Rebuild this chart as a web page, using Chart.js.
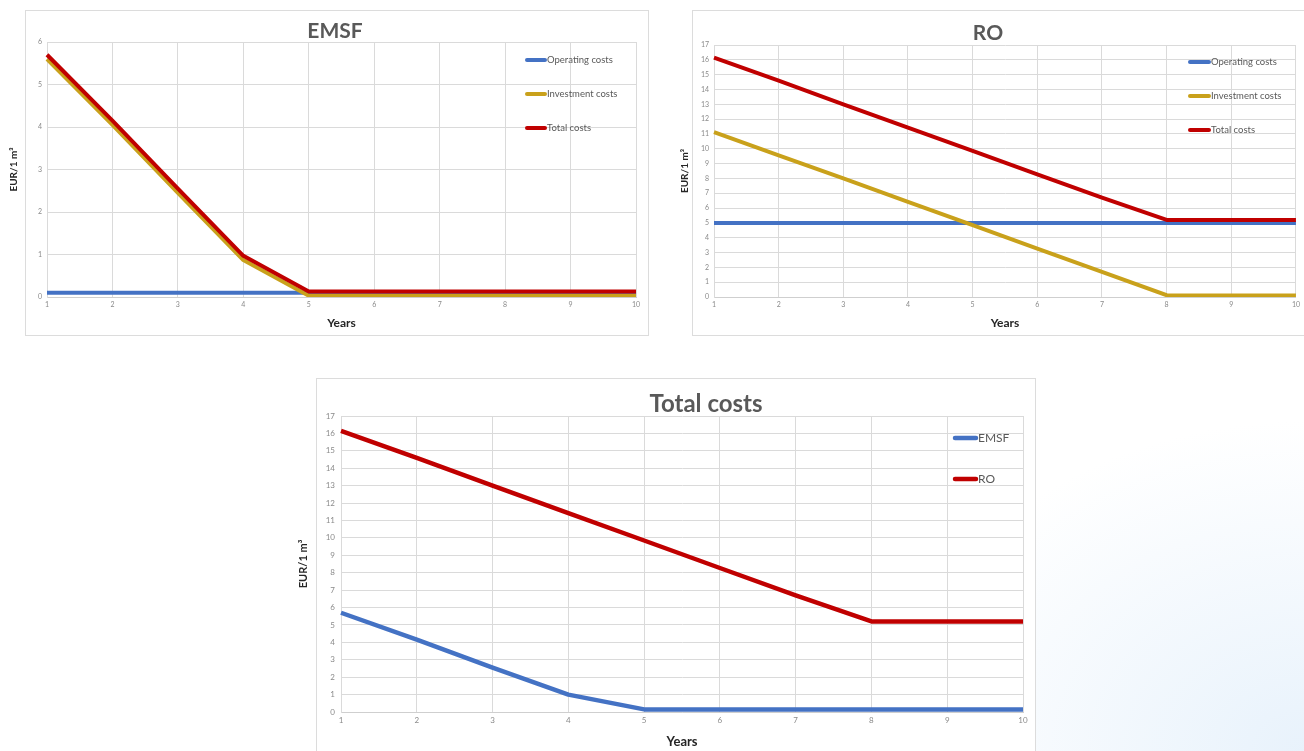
<!DOCTYPE html>
<html>
<head>
<meta charset="utf-8">
<script src="https://cdn.jsdelivr.net/npm/chart.js@4.4.0/dist/chart.umd.min.js"></script>
<style>
html,body{margin:0;padding:0;width:1304px;height:751px;overflow:hidden;}
body{background:radial-gradient(ellipse 420px 330px at 1304px 751px, rgba(228,240,251,0.85), rgba(255,255,255,0) 100%), #fff;position:relative;font-family:Lato, "Open Sans", sans-serif;}
.frame{position:absolute;border:1px solid #dcdcdc;background:#fff;}
.box{position:absolute;}
canvas{display:block;}
</style>
</head>
<body>
<div class="frame" style="left:25px;top:10px;width:622px;height:324px"></div>
<div class="frame" style="left:692px;top:10px;width:620px;height:324px"></div>
<div class="frame" style="left:316px;top:378px;width:718px;height:400px"></div>
<div class="box" style="left:0px;top:10px"><canvas id="c1" width="652" height="330"></canvas></div>
<div class="box" style="left:670px;top:10px"><canvas id="c2" width="634" height="330"></canvas></div>
<div class="box" style="left:290px;top:378px"><canvas id="c3" width="760" height="373"></canvas></div>
<script>
// ---- Data ----
const years = ['1','2','3','4','5','6','7','8','9','10'];

const emsfOperating  = [0.1, 0.1, 0.1, 0.1, 0.1, 0.1, 0.1, 0.1, 0.1, 0.1];
const emsfInvestment = [5.6, 4.05, 2.45, 0.87, 0.03, 0.03, 0.03, 0.03, 0.03, 0.03];
const emsfTotal      = [5.7, 4.15, 2.55, 0.97, 0.13, 0.13, 0.13, 0.13, 0.13, 0.13];

const roOperating  = [5.0, 5.0, 5.0, 5.0, 5.0, 5.0, 5.0, 5.0, 5.0, 5.0];
const roInvestment = [11.12, 9.55, 8.0, 6.42, 4.85, 3.27, 1.7, 0.12, 0.1, 0.1];
const roTotal      = [16.15, 14.6, 13.0, 11.42, 9.85, 8.27, 6.7, 5.2, 5.2, 5.2];

const totalEmsf = [5.7, 4.15, 2.55, 1.0, 0.15, 0.15, 0.15, 0.15, 0.15, 0.15];
const totalRo   = [16.15, 14.6, 13.0, 11.42, 9.85, 8.27, 6.7, 5.2, 5.2, 5.2];

const labelsOpInvTot = ['Operating costs', 'Investment costs', 'Total costs'];
const labelsTotal = ['EMSF', 'RO'];

// ---- Style ----
const BLUE = '#4472C4', GOLD = '#C9A11B', RED = '#C00000';
const FONT = 'Lato, "Open Sans", sans-serif';
const GRID = '#dadada';

const decor = {
  id: 'decor',
  afterDraw(chart, args, opts) {
    const ctx = chart.ctx;
    ctx.save();
    if (opts.title) {
      const t = opts.title;
      ctx.font = 'bold ' + t.size + 'px ' + FONT;
      ctx.fillStyle = '#595959';
      ctx.textAlign = 'center';
      ctx.textBaseline = 'middle';
      ctx.fillText(t.text, t.x, t.y);
    }
    if (opts.legend) {
      const L = opts.legend;
      ctx.font = L.size + 'px ' + FONT;
      chart.data.datasets.forEach((ds, i) => {
        const y = L.y + i * L.dy;
        ctx.strokeStyle = ds.borderColor;
        ctx.lineWidth = L.lw;
        ctx.lineCap = 'round';
        ctx.beginPath();
        ctx.moveTo(L.x, y);
        ctx.lineTo(L.x + L.len, y);
        ctx.stroke();
        ctx.fillStyle = '#595959';
        ctx.textAlign = 'left';
        ctx.textBaseline = 'middle';
        ctx.fillText(ds.label, L.x + L.len + 2, y);
      });
    }
    ctx.restore();
  }
};

function makeChart(id, cfg) {
  const datasets = cfg.series.map((s, i) => ({
    label: s.label,
    data: s.data,
    borderColor: s.color,
    backgroundColor: s.color,
    borderWidth: cfg.lineWidth,
    pointRadius: 0,
    tension: 0,
    borderJoinStyle: 'round',
    order: cfg.series.length - i
  }));
  return new Chart(document.getElementById(id), {
    type: 'line',
    data: { labels: years, datasets },
    plugins: [decor],
    options: {
      responsive: false,
      animation: false,
      layout: { padding: cfg.padding },
      plugins: {
        legend: { display: false },
        title: { display: false },
        tooltip: { enabled: false },
        decor: { title: cfg.title, legend: cfg.legend }
      },
      scales: {
        x: {
          offset: false,
          grid: { color: GRID, drawTicks: false, lineWidth: 1 },
          border: { color: '#cfcfcf' },
          ticks: { color: '#8a8a8a', font: { family: FONT, size: cfg.tickSize }, padding: cfg.xTickPad, maxRotation: 0, autoSkip: false },
          title: { display: true, text: 'Years', color: '#262626', font: { family: FONT, size: cfg.xTitleSize, weight: 'bold' }, padding: { top: 0, bottom: cfg.xTitlePad } },
          afterFit(scale) { scale.height = cfg.xHeight; }
        },
        y: {
          min: 0, max: cfg.yMax,
          grid: { color: GRID, drawTicks: false, lineWidth: 1 },
          border: { color: GRID },
          ticks: { stepSize: 1, color: '#8a8a8a', font: { family: FONT, size: cfg.tickSize }, padding: cfg.yTickPad },
          title: { display: true, text: 'EUR/1 m³', color: '#262626', font: { family: FONT, size: cfg.yTitleSize, weight: 'bold' }, padding: { top: cfg.yTitlePad, bottom: 0 } },
          afterFit(scale) { scale.width = cfg.yWidth; }
        }
      }
    }
  });
}

makeChart('c1', {
  series: [
    { label: labelsOpInvTot[0], data: emsfOperating, color: BLUE },
    { label: labelsOpInvTot[1], data: emsfInvestment, color: GOLD },
    { label: labelsOpInvTot[2], data: emsfTotal, color: RED }
  ],
  yMax: 6, lineWidth: 4,
  padding: { left: 0, right: 16, top: 32, bottom: 0 },
  yWidth: 47, xHeight: 43,
  tickSize: 7, xTickPad: 4, yTickPad: 5,
  xTitleSize: 12, xTitlePad: 9.8,
  yTitleSize: 10, yTitlePad: 8,
  title: { text: 'EMSF', x: 335, y: 21, size: 21 },
  legend: { x: 527, y: 50, dy: 34, len: 18, lw: 4, size: 9.5 }
});

makeChart('c2', {
  series: [
    { label: labelsOpInvTot[0], data: roOperating, color: BLUE },
    { label: labelsOpInvTot[1], data: roInvestment, color: GOLD },
    { label: labelsOpInvTot[2], data: roTotal, color: RED }
  ],
  yMax: 17, lineWidth: 4,
  padding: { left: 0, right: 6, top: 35, bottom: 0 },
  yWidth: 44, xHeight: 43,
  tickSize: 7, xTickPad: 4, yTickPad: 5,
  xTitleSize: 12, xTitlePad: 9.8,
  yTitleSize: 10, yTitlePad: 9,
  title: { text: 'RO', x: 318, y: 23, size: 21 },
  legend: { x: 520, y: 52, dy: 34, len: 19, lw: 4, size: 9.5 }
});

makeChart('c3', {
  series: [
    { label: labelsTotal[0], data: totalEmsf, color: BLUE },
    { label: labelsTotal[1], data: totalRo, color: RED }
  ],
  yMax: 17, lineWidth: 4.5,
  padding: { left: 0, right: 27, top: 38, bottom: 0 },
  yWidth: 51, xHeight: 39,
  tickSize: 8, xTickPad: 4, yTickPad: 6,
  xTitleSize: 13, xTitlePad: 1.2,
  yTitleSize: 11, yTitlePad: 6.4,
  title: { text: 'Total costs', x: 416, y: 26, size: 24 },
  legend: { x: 665, y: 60, dy: 41, len: 21, lw: 4.5, size: 12 }
});
</script>
</body>
</html>
